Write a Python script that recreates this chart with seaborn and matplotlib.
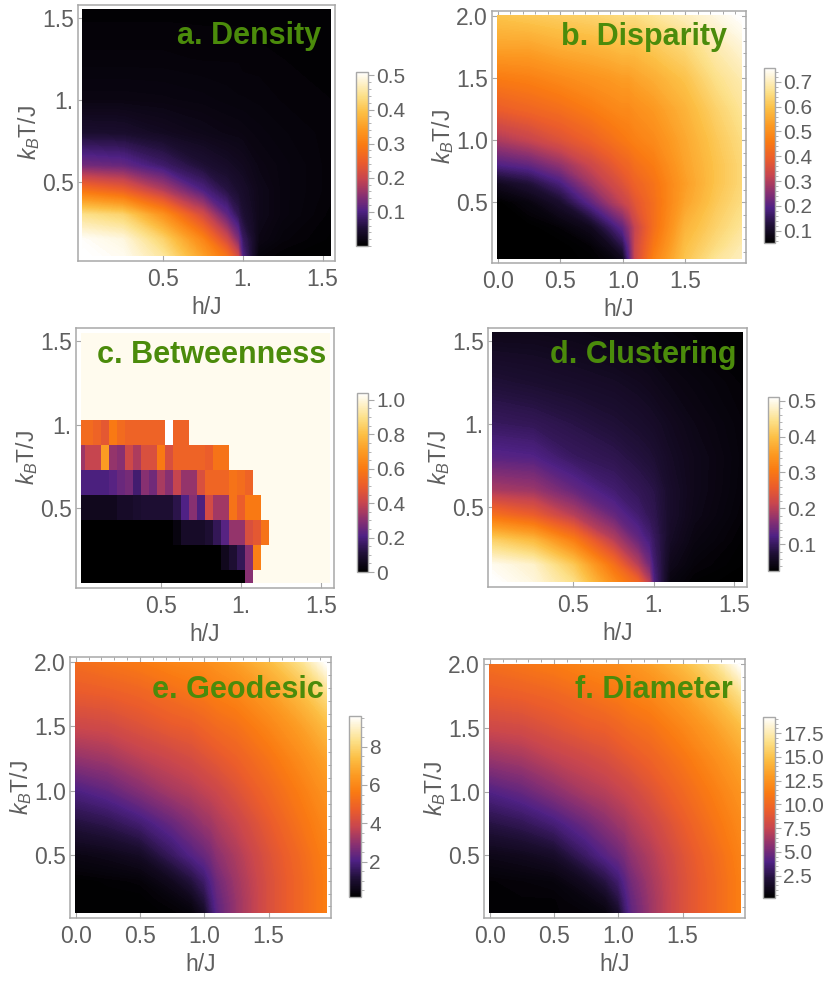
import numpy as np
import pandas as pd
import seaborn as sns
import matplotlib
matplotlib.use("Agg")
import matplotlib.pyplot as plt
from matplotlib.colors import LinearSegmentedColormap, Normalize
from matplotlib.cm import ScalarMappable
from matplotlib.ticker import FixedLocator, FixedFormatter, AutoMinorLocator
import matplotlib.patches as mpatches

# ---------------- data ----------------
# a. Density  (rows: T, columns: h)
dens_h = [0, 0.25, 0.5, 0.75, 0.9, 0.97, 1.0, 1.1, 1.25, 1.55]
dens_T = [0.05, 0.15, 0.3, 0.45, 0.6, 0.8, 1.0, 1.25, 1.55]
dens_vals = [
    [0.51, 0.50, 0.45, 0.35, 0.28, 0.21, 0.10, 0.010, 0.005, 0.002],
    [0.505, 0.49, 0.42, 0.31, 0.21, 0.14, 0.08, 0.020, 0.010, 0.004],
    [0.44, 0.42, 0.33, 0.21, 0.115, 0.07, 0.05, 0.025, 0.015, 0.006],
    [0.28, 0.25, 0.18, 0.10, 0.06, 0.045, 0.04, 0.025, 0.015, 0.008],
    [0.13, 0.12, 0.085, 0.05, 0.038, 0.032, 0.03, 0.020, 0.015, 0.008],
    [0.045, 0.043, 0.032, 0.024, 0.02, 0.019, 0.018, 0.015, 0.012, 0.008],
    [0.018, 0.018, 0.017, 0.015, 0.013, 0.012, 0.012, 0.011, 0.009, 0.007],
    [0.010, 0.010, 0.010, 0.009, 0.009, 0.009, 0.008, 0.008, 0.007, 0.006],
    [0.006, 0.006, 0.006, 0.006, 0.006, 0.006, 0.006, 0.005, 0.005, 0.005],
]

# b. Disparity
disp_h = [0, 0.25, 0.5, 0.75, 0.9, 1.0, 1.05, 1.1, 1.25, 1.5, 1.75, 1.95]
disp_T = [0.05, 0.15, 0.3, 0.5, 0.65, 0.8, 1.0, 1.25, 1.5, 1.75, 2.0]
disp_vals = [
    [0.05, 0.05, 0.05, 0.055, 0.065, 0.09, 0.20, 0.33, 0.47, 0.60, 0.67, 0.70],
    [0.05, 0.05, 0.05, 0.06, 0.09, 0.14, 0.22, 0.33, 0.45, 0.59, 0.65, 0.69],
    [0.05, 0.05, 0.06, 0.09, 0.16, 0.21, 0.26, 0.32, 0.43, 0.57, 0.63, 0.67],
    [0.05, 0.07, 0.11, 0.21, 0.28, 0.32, 0.34, 0.37, 0.43, 0.54, 0.61, 0.65],
    [0.09, 0.12, 0.18, 0.28, 0.33, 0.36, 0.38, 0.40, 0.44, 0.53, 0.60, 0.64],
    [0.19, 0.21, 0.26, 0.33, 0.37, 0.40, 0.41, 0.43, 0.46, 0.54, 0.60, 0.64],
    [0.29, 0.32, 0.36, 0.40, 0.43, 0.45, 0.46, 0.47, 0.49, 0.55, 0.61, 0.65],
    [0.39, 0.41, 0.43, 0.46, 0.48, 0.49, 0.49, 0.50, 0.52, 0.57, 0.63, 0.67],
    [0.46, 0.47, 0.49, 0.51, 0.52, 0.53, 0.53, 0.54, 0.56, 0.60, 0.66, 0.69],
    [0.54, 0.54, 0.56, 0.57, 0.58, 0.59, 0.59, 0.59, 0.61, 0.64, 0.69, 0.72],
    [0.60, 0.61, 0.62, 0.63, 0.64, 0.65, 0.65, 0.65, 0.67, 0.70, 0.73, 0.756],
]

# c. Betweenness (cells, h step 0.05 from 0, T rows 0.05 + 0.15 k); cells not listed are background
betw_h = [round(0.05 * j, 2) for j in range(32)]
betw_T = [1.55, 1.4, 1.25, 1.1, 0.95, 0.8, 0.65, 0.5, 0.35, 0.2, 0.05]
betw_rows = {
    0.95: [0.55, 0.55, 0.52, 0.48, 0.60, 0.55, 0.52, 0.52, 0.52, 0.52, 0.52, 1.04, 0.52, 0.52],
    0.8: [0.33, 0.40, 0.40, 0.70, 0.32, 0.30, 0.42, 0.36, 0.45, 0.45, 0.60, 0.45, 0.52, 0.52,
          0.52, 0.52, 0.50, 0.58, 0.58],
    0.65: [0.20, 0.20, 0.20, 0.20, 0.22, 0.25, 0.27, 0.18, 0.30, 0.26, 0.35, 0.30, 0.40, 0.32,
           0.32, 0.45, 0.53, 0.53, 0.53, 0.58, 0.56, 0.52],
    0.5: [0.06, 0.06, 0.06, 0.06, 0.06, 0.08, 0.08, 0.09, 0.10, 0.10, 0.10, 0.10, 0.13, 0.21,
          0.30, 0.20, 0.43, 0.34, 0.34, 0.58, 0.50, 0.60, 0.60],
    0.35: [0.0, 0.0, 0.0, 0.0, 0.0, 0.0, 0.0, 0.0, 0.0, 0.0, 0.0, 0.0, 0.03, 0.08, 0.08, 0.08,
           0.10, 0.15, 0.22, 0.32, 0.32, 0.45, 0.48, 0.58],
    0.2: [0.0, 0.0, 0.0, 0.0, 0.0, 0.0, 0.0, 0.0, 0.0, 0.0, 0.0, 0.0, 0.0, 0.0, 0.0, 0.0, 0.0,
          0.0, 0.06, 0.10, 0.15, 0.30, 0.62],
    0.05: [0.0, 0.0, 0.0, 0.0, 0.0, 0.0, 0.0, 0.0, 0.0, 0.0, 0.0, 0.0, 0.0, 0.0, 0.0, 0.0, 0.0,
           0.0, 0.0, 0.0, 0.0, 0.30],
}
betw_background = 1.017

# d. Clustering
clus_h = [0, 0.25, 0.5, 0.75, 0.9, 0.97, 1.0, 1.1, 1.25, 1.55]
clus_T = [0.05, 0.15, 0.3, 0.45, 0.6, 0.8, 1.0, 1.25, 1.55]
clus_vals = [
    [0.51, 0.49, 0.44, 0.33, 0.27, 0.20, 0.12, 0.040, 0.030, 0.026],
    [0.50, 0.48, 0.41, 0.29, 0.20, 0.15, 0.11, 0.050, 0.035, 0.028],
    [0.42, 0.39, 0.31, 0.20, 0.14, 0.115, 0.10, 0.060, 0.042, 0.030],
    [0.29, 0.26, 0.20, 0.14, 0.11, 0.095, 0.09, 0.065, 0.048, 0.033],
    [0.19, 0.18, 0.14, 0.11, 0.095, 0.088, 0.085, 0.065, 0.050, 0.035],
    [0.13, 0.125, 0.10, 0.09, 0.08, 0.075, 0.072, 0.060, 0.050, 0.036],
    [0.10, 0.095, 0.085, 0.075, 0.068, 0.064, 0.062, 0.055, 0.046, 0.035],
    [0.075, 0.07, 0.065, 0.06, 0.055, 0.052, 0.05, 0.045, 0.040, 0.032],
    [0.05, 0.05, 0.047, 0.042, 0.04, 0.039, 0.038, 0.035, 0.032, 0.028],
]

# e. Geodesic
geo_h = [0, 0.25, 0.5, 0.75, 0.9, 1.0, 1.05, 1.1, 1.25, 1.5, 1.75, 1.95]
geo_T = [0.05, 0.15, 0.3, 0.5, 0.75, 1.0, 1.25, 1.5, 1.75, 2.0]
geo_vals = [
    [0.2, 0.2, 0.2, 0.25, 0.35, 0.8, 1.6, 2.2, 3.1, 4.2, 5.0, 5.7],
    [0.2, 0.2, 0.2, 0.35, 0.6, 1.2, 1.8, 2.3, 3.1, 4.2, 5.0, 5.7],
    [0.2, 0.25, 0.3, 0.7, 1.2, 1.7, 2.1, 2.5, 3.2, 4.2, 5.0, 5.7],
    [0.5, 0.6, 0.8, 1.6, 2.1, 2.4, 2.6, 2.9, 3.4, 4.3, 5.1, 5.8],
    [1.2, 1.4, 1.8, 2.4, 2.8, 3.1, 3.2, 3.4, 3.8, 4.6, 5.4, 6.0],
    [2.0, 2.3, 2.8, 3.3, 3.5, 3.7, 3.8, 3.9, 4.3, 5.0, 5.7, 6.3],
    [3.0, 3.2, 3.6, 3.9, 4.1, 4.3, 4.4, 4.5, 4.8, 5.4, 6.1, 6.7],
    [3.9, 4.0, 4.3, 4.6, 4.7, 4.9, 5.0, 5.1, 5.3, 5.9, 6.6, 7.3],
    [4.6, 4.7, 4.9, 5.2, 5.4, 5.5, 5.6, 5.7, 5.9, 6.5, 7.3, 8.2],
    [5.2, 5.4, 5.6, 5.9, 6.0, 6.1, 6.2, 6.3, 6.6, 7.3, 8.3, 9.6],
]

# f. Diameter
diam_h = [0, 0.25, 0.5, 0.75, 0.9, 1.0, 1.05, 1.1, 1.25, 1.5, 1.75, 1.95]
diam_T = [0.05, 0.15, 0.3, 0.5, 0.75, 1.0, 1.25, 1.5, 1.75, 2.0]
diam_vals = [
    [0.4, 0.4, 0.4, 0.5, 0.7, 1.6, 3.2, 4.4, 6.2, 8.4, 10.0, 11.4],
    [0.4, 0.4, 0.4, 0.7, 1.2, 2.4, 3.6, 4.6, 6.2, 8.4, 10.0, 11.4],
    [0.4, 0.5, 0.6, 1.4, 2.4, 3.4, 4.2, 5.0, 6.4, 8.4, 10.0, 11.4],
    [1.0, 1.2, 1.6, 3.2, 4.2, 4.8, 5.2, 5.8, 6.8, 8.6, 10.2, 11.6],
    [2.4, 2.8, 3.6, 4.8, 5.6, 6.2, 6.4, 6.8, 7.6, 9.2, 10.8, 12.0],
    [4.0, 4.6, 5.6, 6.6, 7.0, 7.4, 7.6, 7.8, 8.6, 10.0, 11.4, 12.6],
    [6.0, 6.4, 7.2, 7.8, 8.2, 8.6, 8.8, 9.0, 9.6, 10.8, 12.2, 13.4],
    [7.8, 8.0, 8.6, 9.2, 9.4, 9.8, 10.0, 10.2, 10.6, 11.8, 13.2, 14.6],
    [9.2, 9.4, 9.8, 10.4, 10.8, 11.0, 11.2, 11.4, 11.8, 13.0, 14.6, 16.4],
    [10.4, 10.8, 11.2, 11.8, 12.0, 12.2, 12.4, 12.6, 13.2, 14.6, 16.6, 19.2],
]

titles = ["a. Density", "b. Disparity", "c. Betweenness", "d. Clustering", "e. Geodesic", "f. Diameter"]
cbar_ranges = [(0.0, 0.51), (0.05, 0.756), (0.0, 1.04), (0.026, 0.51), (0.15, 9.6), (0.16, 19.2)]
cbar_ticks = [[0.1, 0.2, 0.3, 0.4, 0.5], [0.1, 0.2, 0.3, 0.4, 0.5, 0.6, 0.7],
              [0, 0.2, 0.4, 0.6, 0.8, 1.0], [0.1, 0.2, 0.3, 0.4, 0.5], [2, 4, 6, 8],
              [2.5, 5.0, 7.5, 10.0, 12.5, 15.0, 17.5]]
cbar_labels = [["0.1", "0.2", "0.3", "0.4", "0.5"], ["0.1", "0.2", "0.3", "0.4", "0.5", "0.6", "0.7"],
               ["0", "0.2", "0.4", "0.6", "0.8", "1.0"], ["0.1", "0.2", "0.3", "0.4", "0.5"],
               ["2", "4", "6", "8"], ["2.5", "5.0", "7.5", "10.0", "12.5", "15.0", "17.5"]]
cbar_minor = [5, 5, 4, 5, 4, 5]
short_ticks = [0.5, 1.0, 1.5]
short_labels = ["0.5", "1.", "1.5"]
long_xticks = [0.0, 0.5, 1.0, 1.5]
long_xlabels = ["0.0", "0.5", "1.0", "1.5"]
long_yticks = [0.5, 1.0, 1.5, 2.0]
long_ylabels = ["0.5", "1.0", "1.5", "2.0"]

# ---------------- style ----------------
sns.set_theme(style="white")
plt.rcParams["font.family"] = ["Liberation Sans", "DejaVu Sans"]
plt.rcParams["mathtext.fontset"] = "custom"
plt.rcParams["mathtext.rm"] = "Liberation Sans"
plt.rcParams["mathtext.it"] = "Liberation Sans:italic"

TXT = "#5f5f5f"
FRAME = "#a8a8a8"
GREEN = "#4b8b0b"

cmap = LinearSegmentedColormap.from_list("sunset", [
    (0.00, (0.0, 0.0, 0.0)),
    (0.10, (0.12, 0.06, 0.21)),
    (0.20, (0.31, 0.13, 0.52)),
    (0.29, (0.54, 0.19, 0.44)),
    (0.385, (0.78, 0.27, 0.31)),
    (0.48, (0.92, 0.36, 0.17)),
    (0.58, (0.98, 0.48, 0.07)),
    (0.67, (0.99, 0.60, 0.13)),
    (0.77, (0.99, 0.75, 0.27)),
    (0.865, (0.99, 0.88, 0.54)),
    (1.00, (1.00, 1.00, 1.00)),
])

W, H = 831, 985
fig = plt.figure(figsize=(W / 100, H / 100), dpi=100)


def rect(l, t, r, b):
    return [l / W, 1 - b / H, (r - l) / W, (b - t) / H]


ax_px = [(78, 5, 335, 261), (492, 11, 746, 263), (76, 328, 334, 588),
         (488, 328, 747, 587), (70, 657, 331, 918), (484, 659, 745, 918)]
cb_px = [(356, 72, 368, 246), (764, 68, 775, 243), (357, 393, 368, 572),
         (768, 397, 779, 571), (349, 716, 361, 897), (763, 717, 775, 898)]
title_px = [(321, 44), (727, 45), (326, 363), (736, 363), (324, 698), (733, 698)]
long_panel = [False, True, False, False, True, True]


def style_axes(ax, long):
    for s in ax.spines.values():
        s.set_visible(True)
        s.set_color(FRAME)
        s.set_linewidth(1.1)
    ax.tick_params(which="major", direction="in", length=5, width=0.8, color=FRAME,
                   labelsize=16.5, labelcolor=TXT, bottom=True, left=True)
    ax.tick_params(axis="x", which="major", pad=5)
    ax.tick_params(axis="y", which="major", pad=3)
    if long:
        ax.tick_params(which="both", top=True, right=True, direction="in")
        ax.tick_params(which="minor", length=2.5, width=0.7, color=FRAME)


def smooth(ax, hx, Ty, Z, rng):
    Z = np.array(Z, dtype=float)
    lo = min(rng[0], Z.min()) - 1e-6
    hi = max(rng[1], Z.max()) + 1e-6
    levels = np.linspace(lo, hi, 220)
    ax.contourf(np.array(hx), np.array(Ty), Z, levels=levels, cmap=cmap,
                norm=Normalize(*rng), antialiased=False)


data_sets = {0: (dens_h, dens_T, dens_vals), 1: (disp_h, disp_T, disp_vals),
             3: (clus_h, clus_T, clus_vals), 4: (geo_h, geo_T, geo_vals),
             5: (diam_h, diam_T, diam_vals)}

for i in range(6):
    ax = fig.add_axes(rect(*ax_px[i]))
    ax.set_facecolor("white")
    if i == 2:
        grid = np.full((len(betw_T), len(betw_h)), betw_background)
        for r, T in enumerate(betw_T):
            if T in betw_rows:
                vals = betw_rows[T]
                grid[r, :len(vals)] = vals
        df = pd.DataFrame(grid, index=betw_T, columns=betw_h)
        sns.heatmap(df, ax=ax, cmap=cmap, vmin=cbar_ranges[2][0], vmax=cbar_ranges[2][1],
                    cbar=False, xticklabels=False, yticklabels=False)
        clip = mpatches.Rectangle((0.5, 0.5), len(betw_h) - 1, len(betw_T) - 1,
                                  transform=ax.transData, facecolor="none")
        ax.collections[0].set_clip_path(clip)
        # index coordinates: idx = h/0.05 + 0.5 ; idx = (1.55 - T)/0.15 + 0.5
        ax.set_xlim((-0.03) / 0.05 + 0.5, 1.578 / 0.05 + 0.5)
        ax.set_ylim((1.55 - 0.018) / 0.15 + 0.5, (1.55 - 1.58) / 0.15 + 0.5)
        ax.set_xticks([t / 0.05 + 0.5 for t in short_ticks])
        ax.set_xticklabels(short_labels, rotation=0)
        ax.set_yticks([(1.55 - t) / 0.15 + 0.5 for t in short_ticks])
        ax.set_yticklabels(short_labels, rotation=0)
        ax.set_xlabel("")
        ax.set_ylabel("")
        style_axes(ax, False)
    else:
        hx, Ty, Z = data_sets[i]
        smooth(ax, hx, Ty, Z, cbar_ranges[i])
        if long_panel[i]:
            ax.set_xlim(-0.045, 1.985)
            ax.set_ylim(0.01, 2.04)
            ax.xaxis.set_major_locator(FixedLocator(long_xticks))
            ax.xaxis.set_major_formatter(FixedFormatter(long_xlabels))
            ax.yaxis.set_major_locator(FixedLocator(long_yticks))
            ax.yaxis.set_major_formatter(FixedFormatter(long_ylabels))
            ax.xaxis.set_minor_locator(AutoMinorLocator(5))
            ax.yaxis.set_minor_locator(AutoMinorLocator(5))
        else:
            ax.set_xlim(-0.03, 1.578)
            ax.set_ylim(0.018, 1.58)
            ax.xaxis.set_major_locator(FixedLocator(short_ticks))
            ax.xaxis.set_major_formatter(FixedFormatter(short_labels))
            ax.yaxis.set_major_locator(FixedLocator(short_ticks))
            ax.yaxis.set_major_formatter(FixedFormatter(short_labels))
        style_axes(ax, long_panel[i])
        ax.grid(False)

    l, t, r, b = ax_px[i]
    fig.text(((l + r) / 2) / W, 1 - (b + 53) / H, "h/J", ha="center", va="baseline",
             fontsize=16.5, color=TXT)
    fig.text((l - 49) / W, 1 - ((t + b) / 2) / H, r"$k_B$T/J", ha="center", va="center",
             rotation=90, fontsize=16.5, color=TXT)
    tx, ty = title_px[i]
    fig.text(tx / W, 1 - ty / H, titles[i], ha="right", va="baseline", fontsize=22,
             fontweight="bold", color=GREEN)

    # colorbar
    cax = fig.add_axes(rect(*cb_px[i]))
    sm = ScalarMappable(norm=Normalize(*cbar_ranges[i]), cmap=cmap)
    cb = fig.colorbar(sm, cax=cax)
    cb.outline.set_edgecolor(FRAME)
    cb.outline.set_linewidth(1.0)
    cb.set_ticks(cbar_ticks[i])
    cb.set_ticklabels(cbar_labels[i])
    cax.yaxis.set_minor_locator(AutoMinorLocator(cbar_minor[i]))
    cax.tick_params(which="major", length=4, width=0.8, color=FRAME, labelsize=15,
                    labelcolor=TXT, pad=2, right=True, direction="out")
    cax.tick_params(which="minor", length=2, width=0.6, color=FRAME, right=True, direction="out")

fig.savefig("out.png", dpi=100, facecolor="white")
